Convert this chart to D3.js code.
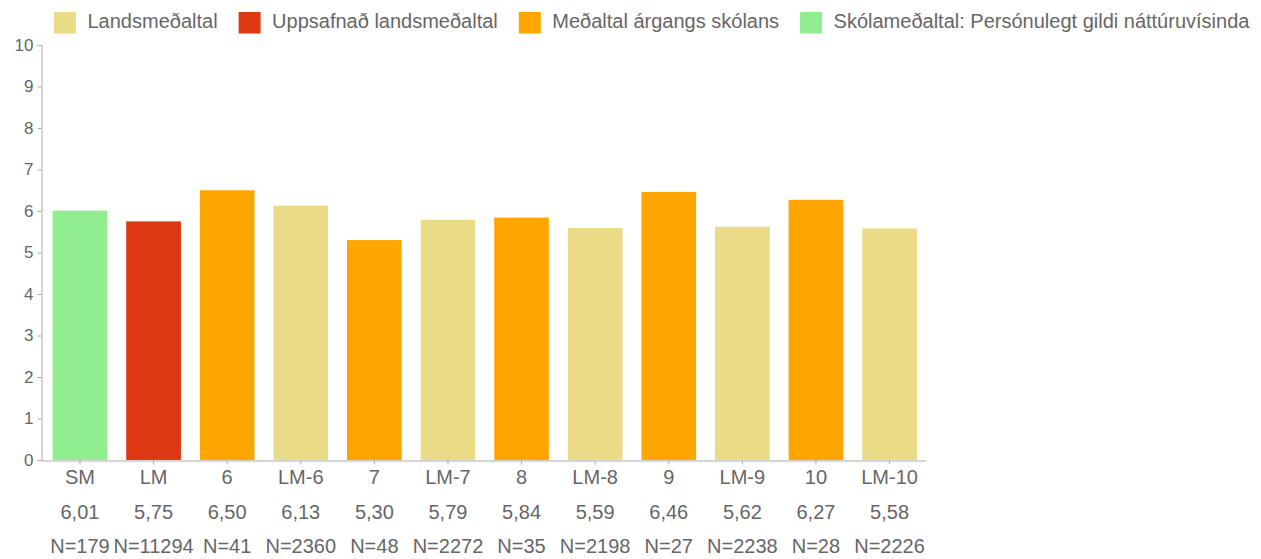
<!DOCTYPE html>
<html>
<head>
<meta charset="utf-8">
<script src="https://cdn.jsdelivr.net/npm/d3@7"></script>
<style>
  html, body { margin: 0; padding: 0; background: #fff; }
  svg { display: block; font-family: "Liberation Sans", Arial, Helvetica, sans-serif; }
</style>
</head>
<body>
<svg id="chart" width="1261" height="559"></svg>
<script>
// ---- data ----
const categories = ["SM", "LM", "6", "LM-6", "7", "LM-7", "8", "LM-8", "9", "LM-9", "10", "LM-10"];
const values     = [6.01, 5.75, 6.50, 6.13, 5.30, 5.79, 5.84, 5.59, 6.46, 5.62, 6.27, 5.58];
const valueLabels = ["6,01", "5,75", "6,50", "6,13", "5,30", "5,79", "5,84", "5,59", "6,46", "5,62", "6,27", "5,58"];
const counts     = [179, 11294, 41, 2360, 48, 2272, 35, 2198, 27, 2238, 28, 2226];
const seriesOf   = [3, 1, 2, 0, 2, 0, 2, 0, 2, 0, 2, 0];
const seriesNames = ["Landsmeðaltal", "Uppsafnað landsmeðaltal", "Meðaltal árgangs skólans", "Skólameðaltal: Persónulegt gildi náttúruvísinda"];
const seriesColors = ["#eadb86", "#dc3912", "#ffa500", "#90ee90"];
const yTicks = [0, 1, 2, 3, 4, 5, 6, 7, 8, 9, 10];

// ---- layout ----
const svg = d3.select("#chart");
const textColor = "#666";
const axisColor = "#aaa";

const x = d3.scaleBand()
  .domain(categories)
  .range([41.5, 926])
  .paddingInner(0.257)
  .paddingOuter(0.1375)
  .align(0.55);

const y = d3.scaleLinear().domain([0, 10]).range([460, 45]);

// bars
svg.append("g").selectAll("rect")
  .data(categories)
  .join("rect")
  .attr("x", d => x(d))
  .attr("width", x.bandwidth())
  .attr("y", (d, i) => y(values[i]))
  .attr("height", (d, i) => y(0) - y(values[i]))
  .attr("fill", (d, i) => seriesColors[seriesOf[i]]);

// y axis
const yAxis = svg.append("g")
  .attr("transform", "translate(41.5,0)")
  .call(d3.axisLeft(y).tickValues(yTicks).tickSize(4).tickSizeOuter(4).tickPadding(4));
yAxis.select(".domain").attr("stroke", axisColor);
yAxis.selectAll(".tick line").attr("stroke", axisColor);
yAxis.selectAll(".tick text")
  .attr("fill", textColor)
  .style("font-size", "17px")
  .style("font-family", "Liberation Sans, Arial, sans-serif");

// x axis
const xAxis = svg.append("g")
  .attr("transform", "translate(0,460.5)")
  .call(d3.axisBottom(x).tickSize(4).tickSizeOuter(0).tickFormat(() => ""));
xAxis.select(".domain").attr("stroke", axisColor);
xAxis.selectAll(".tick line").attr("stroke", axisColor);

// category labels (three rows)
const labelG = svg.append("g")
  .attr("fill", textColor)
  .style("font-size", "20px")
  .attr("text-anchor", "middle");

labelG.selectAll("text.cat")
  .data(categories)
  .join("text")
  .attr("class", "cat")
  .attr("x", d => x(d) + x.bandwidth() / 2)
  .attr("y", 484)
  .text(d => d);

labelG.selectAll("text.val")
  .data(categories)
  .join("text")
  .attr("class", "val")
  .attr("x", d => x(d) + x.bandwidth() / 2)
  .attr("y", 519)
  .text((d, i) => valueLabels[i]);

labelG.selectAll("text.n")
  .data(categories)
  .join("text")
  .attr("class", "n")
  .attr("x", d => x(d) + x.bandwidth() / 2)
  .attr("y", 552.5)
  .text((d, i) => "N=" + counts[i]);

// legend
const legend = svg.append("g");
let lx = 54;
seriesNames.forEach((name, i) => {
  const g = legend.append("g");
  g.append("rect")
    .attr("x", lx).attr("y", 12)
    .attr("width", 22).attr("height", 21.5)
    .attr("fill", seriesColors[i]);
  const t = g.append("text")
    .attr("x", lx + 33.5).attr("y", 28)
    .attr("fill", textColor)
    .style("font-size", "20px")
    .text(name);
  lx = lx + 33.5 + t.node().getComputedTextLength() + 21;
});
</script>
</body>
</html>
